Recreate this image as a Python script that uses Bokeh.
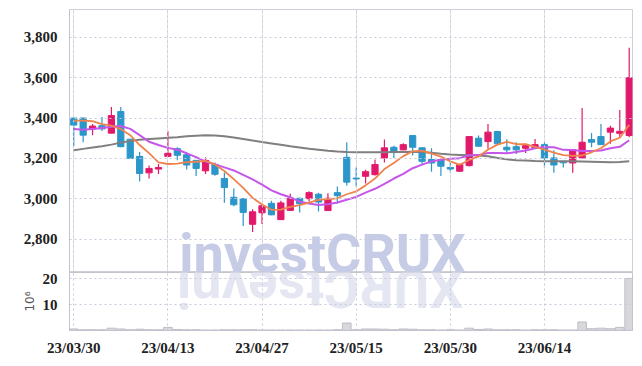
from bokeh.plotting import figure
from bokeh.layouts import column
from bokeh.models import Range1d, FixedTicker, Label, Grid, NumeralTickFormatter
from bokeh.embed import file_html
from bokeh.resources import INLINE

dates = ["2023-03-30", "2023-03-31", "2023-04-03", "2023-04-04", "2023-04-05", "2023-04-06",
         "2023-04-07", "2023-04-10", "2023-04-11", "2023-04-12", "2023-04-13", "2023-04-14",
         "2023-04-17", "2023-04-18", "2023-04-19", "2023-04-20", "2023-04-21", "2023-04-24",
         "2023-04-25", "2023-04-26", "2023-04-27", "2023-04-28", "2023-05-02", "2023-05-03",
         "2023-05-04", "2023-05-08", "2023-05-09", "2023-05-10", "2023-05-11", "2023-05-12",
         "2023-05-15", "2023-05-16", "2023-05-17", "2023-05-18", "2023-05-19", "2023-05-22",
         "2023-05-23", "2023-05-24", "2023-05-25", "2023-05-26", "2023-05-30", "2023-05-31",
         "2023-06-01", "2023-06-02", "2023-06-05", "2023-06-07", "2023-06-08", "2023-06-09",
         "2023-06-12", "2023-06-13", "2023-06-14", "2023-06-15", "2023-06-16", "2023-06-19",
         "2023-06-20", "2023-06-21", "2023-06-22", "2023-06-23", "2023-06-26", "2023-06-27"]

opens = [3400, 3400, 3345, 3362, 3325, 3432, 3295, 3210, 3128, 3147,
         3210, 3248, 3218, 3190, 3138, 3170, 3100, 3007, 3000, 2873,
         2930, 2977, 2896, 2942, 3002, 3000, 3022, 2941, 3030, 3205,
         3102, 3111, 3119, 3202, 3255, 3242, 3313, 3252, 3194, 3194,
         3155, 3136, 3164, 3300, 3283, 3333, 3255, 3258, 3250, 3252,
         3268, 3202, 3185, 3177, 3202, 3293, 3308, 3330, 3324, 3313]
highs = [3400, 3400, 3370, 3405, 3455, 3455, 3295, 3232, 3165, 3172,
         3335, 3255, 3230, 3190, 3205, 3180, 3130, 3050, 3000, 2948,
         2972, 2990, 2990, 3024, 3005, 3037, 3030, 3027, 3060, 3280,
         3155, 3144, 3194, 3293, 3263, 3275, 3313, 3255, 3250, 3198,
         3180, 3175, 3308, 3313, 3370, 3337, 3295, 3280, 3272, 3296,
         3280, 3240, 3187, 3245, 3450, 3326, 3370, 3362, 3440, 3748]
lows = [3260, 3280, 3315, 3335, 3325, 3255, 3200, 3085, 3100, 3123,
        3205, 3190, 3145, 3112, 3123, 3114, 2980, 2962, 2865, 2835,
        2875, 2918, 2896, 2940, 2932, 2985, 2936, 2940, 2975, 3065,
        3060, 3075, 3115, 3180, 3202, 3240, 3214, 3170, 3134, 3112,
        3130, 3135, 3160, 3258, 3247, 3270, 3222, 3222, 3227, 3250,
        3155, 3128, 3155, 3128, 3200, 3255, 3267, 3272, 3305, 3305]
closes = [3365, 3315, 3360, 3346, 3412, 3258, 3200, 3125, 3150, 3155,
          3225, 3215, 3167, 3150, 3190, 3121, 3055, 2970, 2932, 2935,
          2965, 2920, 2979, 3002, 2975, 3030, 2983, 3002, 3015, 3082,
          3098, 3134, 3169, 3252, 3230, 3268, 3255, 3185, 3177, 3161,
          3147, 3169, 3308, 3260, 3330, 3272, 3242, 3242, 3263, 3268,
          3202, 3167, 3178, 3243, 3280, 3280, 3268, 3350, 3334, 3600]
ma5 = [3387, 3387, 3384, 3370, 3362, 3345, 3315, 3266, 3226, 3180,
       3172, 3174, 3181, 3183, 3188, 3170, 3137, 3097, 3054, 3004,
       2971, 2945, 2946, 2959, 2968, 2981, 2994, 2998, 3002, 3022,
       3036, 3066, 3100, 3147, 3177, 3211, 3235, 3238, 3223, 3209,
       3185, 3168, 3192, 3209, 3243, 3268, 3282, 3270, 3270, 3257,
       3243, 3228, 3216, 3212, 3214, 3230, 3250, 3284, 3302, 3366]
ma10 = [3346, 3342, 3346, 3350, 3357, 3360, 3346, 3315, 3282, 3266,
        3252, 3243, 3225, 3206, 3184, 3170, 3155, 3140, 3118, 3096,
        3070, 3041, 3022, 3007, 2985, 2976, 2969, 2972, 2981, 2995,
        3009, 3030, 3049, 3074, 3100, 3123, 3151, 3169, 3185, 3193,
        3198, 3201, 3215, 3216, 3226, 3226, 3225, 3231, 3239, 3250,
        3256, 3255, 3242, 3241, 3236, 3237, 3239, 3250, 3257, 3290]
ma_long = [3240, 3247, 3254, 3260, 3268, 3278, 3286, 3292, 3296, 3299,
           3302, 3305, 3309, 3312, 3314, 3313, 3310, 3303, 3296, 3288,
           3281, 3274, 3267, 3260, 3254, 3248, 3243, 3238, 3234, 3231,
           3230, 3230, 3230, 3230, 3231, 3232, 3233, 3232, 3228, 3223,
           3219, 3217, 3215, 3214, 3210, 3202, 3195, 3191, 3189, 3187,
           3186, 3186, 3186, 3185, 3184, 3183, 3182, 3181, 3182, 3185]
volumes = [0.6, 0.3, 0.3, 0.3, 0.9, 0.6, 0.3, 0.5, 0.3, 0.3,
           1.2, 0.4, 0.3, 0.3, 0.2, 0.2, 0.3, 0.3, 0.3, 0.3,
           0.2, 0.2, 0.2, 0.2, 0.2, 0.2, 0.2, 0.2, 0.3, 2.9,
           0.3, 0.6, 0.6, 0.5, 0.3, 0.6, 0.5, 0.3, 0.3, 0.2,
           0.3, 0.2, 0.9, 0.4, 0.6, 0.3, 0.3, 0.3, 0.2, 0.3,
           0.3, 0.3, 0.2, 0.2, 3.3, 0.7, 0.9, 0.7, 1.2, 20.2]
price_ticks = [2800, 3000, 3200, 3400, 3600, 3800]
volume_ticks = [10, 20]
date_tick_positions = [0, 10, 20, 30, 40, 50]
watermark = "investCRUX"

UP = "#e2196a"
DOWN = "#2b96c9"
GRID = "#c9c9dc"
AXIS = "#c2c2d2"
FONT = "Liberation Sans Narrow"

idx = list(range(len(dates)))
colors = [UP if c >= o else DOWN for o, c in zip(opens, closes)]
tops = [max(o, c) for o, c in zip(opens, closes)]
bots = [min(o, c) for o, c in zip(opens, closes)]
labels = {i: dates[i][2:].replace("-", "/") for i in date_tick_positions}

xr = Range1d(-0.45, 59.35)

p1 = figure(width=634, height=272, x_range=xr, y_range=Range1d(2634, 3938),
            output_backend="svg", toolbar_location=None, x_axis_location=None,
            min_border_left=69, min_border_right=2, min_border_top=9, min_border_bottom=0)
p1.outline_line_color = "#cfcfd8"
p1.yaxis.ticker = FixedTicker(ticks=price_ticks)
p1.yaxis.formatter = NumeralTickFormatter(format="0,0")
p1.ygrid.ticker = FixedTicker(ticks=price_ticks)
p1.ygrid.grid_line_color = GRID
p1.ygrid.grid_line_dash = "2 3"
p1.ygrid.level = "glyph"
xg = Grid(dimension=0, ticker=FixedTicker(ticks=date_tick_positions),
          grid_line_color=GRID, grid_line_dash="2 3", level="glyph")
p1.add_layout(xg)

wm = Label(x=11.2, y=2726, text=watermark, text_font="Roboto",
           text_font_style="bold", text_font_size="54px", text_color="#c6cce5",
           text_align="left", text_baseline="middle", level="underlay")
p1.add_layout(wm)

p1.segment(x0=idx, y0=highs, x1=idx, y1=lows, line_color=colors, line_width=1.2)
p1.vbar(x=idx, top=tops, bottom=bots, width=0.66, fill_color=colors, line_color=colors)
p1.line(idx, ma_long, line_color="#7f7f7f", line_width=2)
p1.line(idx, ma10, line_color="#c655ea", line_width=2)
p1.line(idx, ma5, line_color="#f0834c", line_width=1.8)

p2 = figure(width=634, height=86, x_range=xr, y_range=Range1d(0, 22.5),
            output_backend="svg", toolbar_location=None,
            min_border_left=69, min_border_right=2, min_border_top=0, min_border_bottom=21)
p2.outline_line_color = "#c4c4cc"
p2.yaxis.ticker = FixedTicker(ticks=volume_ticks)
p2.ygrid.ticker = FixedTicker(ticks=volume_ticks)
p2.xaxis.ticker = FixedTicker(ticks=date_tick_positions)
p2.xaxis.major_label_overrides = labels
p2.xgrid.ticker = FixedTicker(ticks=date_tick_positions)
for g in (p2.xgrid, p2.ygrid):
    g.grid_line_color = GRID
    g.grid_line_dash = "2 3"
    g.level = "glyph"
p2.yaxis.axis_label = "10\u2076"
p2.yaxis.axis_label_text_font = "DejaVu Sans"
p2.yaxis.axis_label_text_font_style = "normal"
p2.yaxis.axis_label_text_font_size = "12px"
p2.yaxis.axis_label_text_color = "#555555"
p2.yaxis.axis_label_standoff = 3

refl = Label(x=41.4, y=16.1, text=watermark[::-1], angle=3.14159265,
             text_font="Roboto", text_font_style="bold", text_font_size="54px",
             text_color="#e4e7f2", text_align="left", text_baseline="middle",
             level="underlay")
p2.add_layout(refl)
p2.vbar(x=idx, top=volumes, bottom=0, width=0.92, fill_color="#d7d7dc", line_color="#bebec6")

for p in (p1, p2):
    for ax in p.yaxis:
        ax.axis_line_color = AXIS
        ax.major_tick_line_color = None
        ax.minor_tick_line_color = None
        ax.major_label_text_font = FONT
        ax.major_label_text_font_style = "bold"
        ax.major_label_text_font_size = "15px"
        ax.major_label_text_color = "#222222"
        ax.major_label_standoff = 6
for ax in p2.xaxis:
    ax.axis_line_color = AXIS
    ax.major_tick_line_color = None
    ax.minor_tick_line_color = None
    ax.major_label_text_font = FONT
    ax.major_label_text_font_style = "bold"
    ax.major_label_text_font_size = "15px"
    ax.major_label_text_color = "#222222"
    ax.major_label_standoff = 3

layout = column(p1, p2, spacing=0)
open("out.html", "w").write(file_html(layout, INLINE))
